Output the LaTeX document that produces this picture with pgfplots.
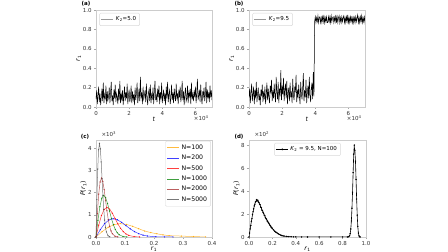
\documentclass[border=0pt]{standalone}
\usepackage{fontspec}
\setmainfont{DejaVu Sans}
\usepackage{pgfplots}
\pgfplotsset{compat=1.18}
\usepackage{pgfplotstable}

\pgfplotstableread[row sep=\\]{y\\
0.08\\ 0.17\\ 0.03\\ 0.12\\ 0.21\\ 0.05\\ 0.14\\ 0.02\\ 0.10\\ 0.19\\ 0.06\\ 0.25\\ 0.04\\ 0.13\\ 0.09\\ 0.22\\ 0.03\\ 0.16\\ 0.07\\ 0.11\\
0.20\\ 0.04\\ 0.15\\ 0.26\\ 0.06\\ 0.12\\ 0.02\\ 0.18\\ 0.09\\ 0.23\\ 0.05\\ 0.14\\ 0.10\\ 0.03\\ 0.19\\ 0.07\\ 0.27\\ 0.04\\ 0.13\\ 0.08\\
0.17\\ 0.02\\ 0.11\\ 0.21\\ 0.06\\ 0.15\\ 0.09\\ 0.24\\ 0.03\\ 0.12\\ 0.18\\ 0.05\\ 0.10\\ 0.22\\ 0.04\\ 0.16\\ 0.08\\ 0.13\\ 0.02\\ 0.20\\
0.07\\ 0.14\\ 0.25\\ 0.04\\ 0.11\\ 0.19\\ 0.06\\ 0.31\\ 0.09\\ 0.15\\ 0.03\\ 0.21\\ 0.08\\ 0.12\\ 0.17\\ 0.05\\ 0.24\\ 0.10\\ 0.02\\ 0.14\\
0.18\\ 0.06\\ 0.23\\ 0.04\\ 0.13\\ 0.09\\ 0.20\\ 0.03\\ 0.16\\ 0.27\\ 0.07\\ 0.12\\ 0.05\\ 0.19\\ 0.10\\ 0.22\\ 0.03\\ 0.15\\ 0.08\\ 0.25\\
0.04\\ 0.11\\ 0.18\\ 0.06\\ 0.14\\ 0.02\\ 0.21\\ 0.09\\ 0.26\\ 0.05\\ 0.13\\ 0.17\\ 0.03\\ 0.10\\ 0.23\\ 0.07\\ 0.15\\ 0.04\\ 0.19\\ 0.11\\
0.06\\ 0.24\\ 0.08\\ 0.14\\ 0.03\\ 0.18\\ 0.10\\ 0.21\\ 0.05\\ 0.12\\ 0.27\\ 0.07\\ 0.16\\ 0.02\\ 0.13\\ 0.20\\ 0.06\\ 0.09\\ 0.22\\ 0.04\\
0.15\\ 0.11\\ 0.19\\ 0.03\\ 0.25\\ 0.08\\ 0.13\\ 0.06\\ 0.17\\ 0.10\\ 0.21\\ 0.04\\ 0.14\\ 0.29\\ 0.07\\ 0.12\\ 0.18\\ 0.05\\ 0.23\\ 0.09\\
0.03\\ 0.16\\ 0.11\\ 0.20\\ 0.06\\ 0.13\\ 0.26\\ 0.04\\ 0.18\\ 0.09\\ 0.15\\ 0.05\\ 0.22\\ 0.10\\ 0.17\\ 0.07\\
}\dataA

\pgfplotstableread[row sep=\\]{y\\
0.10\\ 0.19\\ 0.04\\ 0.15\\ 0.24\\ 0.06\\ 0.13\\ 0.21\\ 0.03\\ 0.17\\ 0.09\\ 0.26\\ 0.05\\ 0.14\\ 0.20\\ 0.07\\ 0.12\\ 0.02\\ 0.18\\ 0.11\\
0.23\\ 0.05\\ 0.16\\ 0.08\\ 0.21\\ 0.03\\ 0.13\\ 0.25\\ 0.07\\ 0.19\\ 0.10\\ 0.04\\ 0.22\\ 0.14\\ 0.28\\ 0.06\\ 0.17\\ 0.09\\ 0.24\\ 0.12\\
0.05\\ 0.31\\ 0.15\\ 0.08\\ 0.26\\ 0.04\\ 0.19\\ 0.11\\ 0.38\\ 0.07\\ 0.22\\ 0.13\\ 0.30\\ 0.06\\ 0.17\\ 0.24\\ 0.09\\ 0.27\\ 0.03\\ 0.14\\
0.20\\ 0.06\\ 0.25\\ 0.10\\ 0.16\\ 0.04\\ 0.29\\ 0.12\\ 0.07\\ 0.21\\ 0.15\\ 0.33\\ 0.05\\ 0.18\\ 0.09\\ 0.23\\ 0.11\\ 0.03\\ 0.26\\ 0.13\\
0.08\\ 0.20\\ 0.35\\ 0.06\\ 0.17\\ 0.10\\ 0.28\\ 0.04\\ 0.15\\ 0.22\\ 0.09\\ 0.31\\ 0.12\\ 0.05\\ 0.19\\ 0.25\\ 0.08\\ 0.36\\ 0.11\\
0.88\\ 0.93\\ 0.87\\ 0.92\\ 0.88\\ 0.94\\ 0.87\\ 0.92\\ 0.93\\ 0.87\\ 0.92\\ 0.87\\ 0.93\\ 0.88\\ 0.95\\ 0.87\\ 0.92\\ 0.88\\ 0.93\\ 0.87\\
0.87\\ 0.93\\ 0.88\\ 0.93\\ 0.87\\ 0.94\\ 0.88\\ 0.92\\ 0.93\\ 0.87\\ 0.92\\ 0.88\\ 0.95\\ 0.87\\ 0.93\\ 0.87\\ 0.92\\ 0.94\\ 0.87\\ 0.92\\
0.87\\ 0.93\\ 0.88\\ 0.92\\ 0.94\\ 0.87\\ 0.92\\ 0.87\\ 0.93\\ 0.88\\ 0.95\\ 0.87\\ 0.92\\ 0.87\\ 0.93\\ 0.88\\ 0.92\\ 0.87\\ 0.94\\ 0.87\\
0.92\\ 0.87\\ 0.93\\ 0.88\\ 0.92\\ 0.95\\ 0.87\\ 0.92\\ 0.87\\ 0.93\\ 0.88\\ 0.94\\ 0.87\\ 0.92\\ 0.88\\ 0.93\\ 0.87\\ 0.92\\
}\dataB

\definecolor{mplorange}{HTML}{FFA500}
\definecolor{mplgreen}{HTML}{008000}
\definecolor{mplbrown}{HTML}{A52A2A}

\newcommand{\tickfont}{\fontsize{5.5}{6}\selectfont}
\newcommand{\labfont}{\fontsize{6.2}{7}\selectfont}

\begin{document}
\begin{tikzpicture}
\useasboundingbox (0,0) rectangle (448pt,252pt);
\pgfplotsset{
  every axis/.append style={
    scale only axis, anchor=south west,
    axis line style={gray!40},
    tick style={gray!70, line width=0.4pt},
    tick align=outside, major tick length=1.8pt,
    xtick pos=bottom, ytick pos=left,
    tick label style={font=\tickfont, text=black!80},
    label style={font=\labfont},
    /pgf/number format/assume math mode=true,
    xticklabel style={yshift=1pt},
    yticklabel style={xshift=1pt},
    legend cell align=left,
    legend style={font=\tickfont, draw=gray!30, rounded corners=1pt, inner sep=1.5pt,
      row sep=-0.5pt},
    legend image code/.code={\draw[#1] (0pt,0pt) -- (12pt,0pt);},
  }
}
% (a)
\begin{axis}[name=A, at={(96pt,145pt)}, width=116pt, height=97pt,
  xmin=0, xmax=7, ymin=0, ymax=1,
  xtick={0,2,4,6},
  ytick={0,0.2,0.4,0.6,0.8,1.0},
  yticklabel style={/pgf/number format/.cd, fixed, fixed zerofill, precision=1},
  xlabel={\textit{t}}, ylabel={\textit{r}\textsubscript{1}},
  xlabel style={yshift=5pt}, ylabel style={yshift=-5pt},
  legend image code/.code={\draw[gray!80, line width=0.6pt] (0pt,0pt) -- (12pt,0pt);},
  legend style={at={(0.03,0.97)}, anchor=north west}]
\addplot[black, line width=0.5pt] table[x expr=\coordindex*0.04, y=y] {\dataA};
\addlegendentry{\textit{K}\textsubscript{2}=5.0}
\end{axis}
% (b)
\begin{axis}[name=B, at={(249pt,145pt)}, width=116pt, height=97pt,
  xmin=0, xmax=7, ymin=0, ymax=1,
  xtick={0,2,4,6},
  ytick={0,0.2,0.4,0.6,0.8,1.0},
  yticklabel style={/pgf/number format/.cd, fixed, fixed zerofill, precision=1},
  xlabel={\textit{t}}, ylabel={\textit{r}\textsubscript{1}},
  xlabel style={yshift=5pt}, ylabel style={yshift=-5pt},
  legend image code/.code={\draw[gray!80, line width=0.6pt] (0pt,0pt) -- (12pt,0pt);},
  legend style={at={(0.03,0.97)}, anchor=north west}]
\addplot[black, line width=0.5pt] table[x expr=\coordindex*0.04, y=y] {\dataB};
\addlegendentry{\textit{K}\textsubscript{2}=9.5}
\end{axis}
% (c)
\begin{axis}[name=C, at={(96pt,15pt)}, width=116pt, height=97pt,
  xmin=0, xmax=0.4, ymin=0, ymax=4.36,
  xtick={0,0.1,0.2,0.3,0.4},
  ytick={0,1,2,3,4},
  xticklabel style={/pgf/number format/.cd, fixed, fixed zerofill, precision=1},
  xlabel={\textit{r}\textsubscript{1}}, ylabel={\textit{P}(\textit{r}\textsubscript{1})},
  xlabel style={yshift=5pt}, ylabel style={yshift=-5pt},
  legend style={at={(0.99,0.99)}, anchor=north east, font=\labfont, row sep=0.3pt},
  every axis plot/.append style={line width=0.5pt, mark=*, mark size=0.35pt, opacity=0.75}]
\addplot[mplorange] coordinates {(0,0) (0.021,0.24) (0.042,0.436) (0.063,0.56) (0.084,0.6) (0.105,0.566) (0.126,0.482) (0.147,0.374) (0.168,0.268) (0.189,0.198) (0.21,0.144) (0.231,0.096) (0.252,0.06) (0.294,0.042) (0.336,0.018) (0.378,0.005)};
\addlegendentry{N=100}
\addplot[blue] coordinates {(0,0) (0.0148,0.328) (0.0295,0.596) (0.0443,0.765) (0.059,0.82) (0.0738,0.773) (0.0885,0.658) (0.1033,0.512) (0.118,0.366) (0.1328,0.242) (0.1475,0.148) (0.1623,0.084) (0.177,0.045) (0.2065,0.010) (0.236,0.002) (0.2655,0)};
\addlegendentry{N=200}
\addplot[red] coordinates {(0,0) (0.0094,0.532) (0.0188,0.967) (0.0282,1.241) (0.0376,1.33) (0.047,1.254) (0.0564,1.068) (0.0658,0.830) (0.0752,0.593) (0.0846,0.392) (0.094,0.241) (0.1034,0.137) (0.1128,0.073) (0.1316,0.017) (0.1504,0.003)};
\addlegendentry{N=500}
\addplot[mplgreen] coordinates {(0,0) (0.0067,0.748) (0.0133,1.359) (0.0200,1.745) (0.0266,1.87) (0.0333,1.763) (0.0399,1.502) (0.0466,1.167) (0.0532,0.834) (0.0599,0.552) (0.0665,0.338) (0.0732,0.193) (0.0798,0.103) (0.0931,0.024) (0.1064,0.004)};
\addlegendentry{N=1000}
\addplot[mplbrown] coordinates {(0,0) (0.0047,1.06) (0.0094,1.927) (0.0141,2.472) (0.0188,2.65) (0.0235,2.499) (0.0282,2.128) (0.0329,1.654) (0.0376,1.182) (0.0423,0.782) (0.047,0.480) (0.0517,0.273) (0.0564,0.146) (0.0658,0.033) (0.0752,0.006)};
\addlegendentry{N=2000}
\addplot[black!70] coordinates {(0,0) (0.003,1.68) (0.006,3.053) (0.0089,3.919) (0.0119,4.2) (0.0149,3.961) (0.0179,3.373) (0.0208,2.621) (0.0238,1.873) (0.0268,1.239) (0.0298,0.760) (0.0327,0.433) (0.0357,0.231) (0.0417,0.053) (0.0476,0.009)};
\addlegendentry{N=5000}
\end{axis}
% (d)
\begin{axis}[name=D, at={(249pt,15pt)}, width=117pt, height=97pt,
  xmin=0, xmax=1, ymin=0, ymax=8.44,
  xtick={0,0.2,0.4,0.6,0.8,1.0},
  ytick={0,2,4,6,8},
  xticklabel style={/pgf/number format/.cd, fixed, fixed zerofill, precision=1},
  xlabel={\textit{r}\textsubscript{1}}, ylabel={\textit{P}(\textit{r}\textsubscript{1})},
  xlabel style={yshift=5pt}, ylabel style={yshift=-5pt},
  legend image code/.code={\draw[black, line width=0.4pt] (0pt,0pt) -- (12pt,0pt); \fill[black] (6pt,0pt) circle (0.5pt);},
  legend style={at={(0.5,0.97)}, anchor=north}]
\addplot[black, line width=0.6pt, mark=*, mark size=0.35pt] coordinates {
(0,0) (0.005,0.35) (0.01,0.7) (0.015,1.0) (0.02,1.35) (0.025,1.6) (0.03,1.95) (0.035,2.2) (0.04,2.45) (0.045,2.7) (0.05,2.85) (0.055,3.05) (0.06,3.1) (0.065,3.25) (0.07,3.15) (0.075,3.2) (0.08,3.05) (0.085,3.0) (0.09,2.85) (0.095,2.8) (0.1,2.6) (0.105,2.55) (0.11,2.35) (0.115,2.3) (0.12,2.15) (0.125,2.05) (0.13,1.9) (0.135,1.85) (0.14,1.7) (0.145,1.6) (0.15,1.55) (0.155,1.4) (0.16,1.35) (0.165,1.25) (0.17,1.2) (0.175,1.1) (0.18,1.0) (0.185,0.95) (0.19,0.85) (0.195,0.8) (0.2,0.72) (0.21,0.62) (0.22,0.5) (0.23,0.42) (0.24,0.35) (0.25,0.28) (0.26,0.22) (0.27,0.17) (0.28,0.13) (0.29,0.1) (0.3,0.08) (0.32,0.05) (0.34,0.03) (0.36,0.02) (0.38,0.01) (0.4,0.005) (0.45,0) (0.5,0) (0.6,0) (0.7,0) (0.8,0) (0.84,0) (0.85,0.02) (0.86,0.1) (0.865,0.3) (0.87,0.7) (0.875,1.4) (0.88,2.5) (0.885,3.9) (0.89,5.6) (0.895,7.2) (0.9,8.0) (0.902,7.6) (0.905,7.5) (0.91,6.6) (0.915,5.0) (0.92,3.3) (0.925,1.9) (0.93,0.9) (0.935,0.35) (0.94,0.1) (0.945,0.02) (0.95,0)};
\addlegendentry{\textit{K}\textsubscript{2} = 9.5, N=100}
\end{axis}
\node[font=\tickfont, anchor=north east, text=black!80] at ([yshift=-5pt]A.south east) {×10\textsuperscript{4}};
\node[font=\tickfont, anchor=north east, text=black!80] at ([yshift=-5pt]B.south east) {×10\textsuperscript{4}};
\node[font=\tickfont, anchor=south west, text=black!80] at ([xshift=2pt]C.north west) {×10\textsuperscript{3}};
\node[font=\tickfont, anchor=south west, text=black!80] at ([xshift=2pt]D.north west) {×10\textsuperscript{2}};
\node[font=\tickfont\bfseries] at (86pt,248pt) {(a)};
\node[font=\tickfont\bfseries] at (239pt,248pt) {(b)};
\node[font=\tickfont\bfseries] at (85pt,115pt) {(c)};
\node[font=\tickfont\bfseries] at (239pt,115pt) {(d)};
\end{tikzpicture}
\end{document}
